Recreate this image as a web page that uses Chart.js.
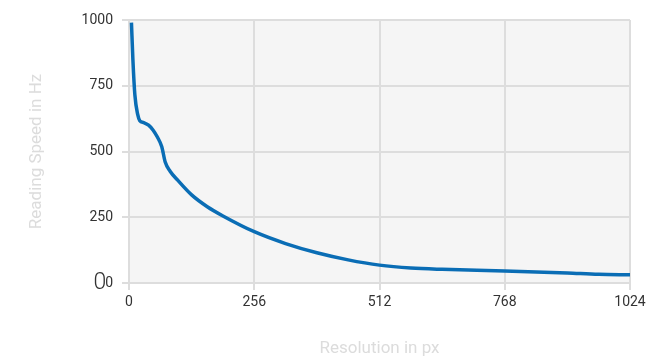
<!DOCTYPE html>
<html>
<head>
<meta charset="utf-8">
<script src="https://cdn.jsdelivr.net/npm/chart.js@4/dist/chart.umd.min.js"></script>
<style>
html,body{margin:0;padding:0;background:#fff;}
#wrap{width:646px;height:361px;position:relative;}
</style>
</head>
<body>
<div id="wrap"><canvas id="c" width="646" height="361"></canvas></div>
<script>
const resolution = [5, 8, 12, 18, 22, 30, 40, 49, 58, 67, 74, 84, 100, 128, 160, 192, 256, 320, 384, 448, 512, 576, 640, 768, 896, 960, 1024];
const speed      = [990, 848, 715, 639, 617, 610, 600, 582, 555, 518, 460, 425, 390, 335, 290, 255, 195, 150, 115, 88, 68, 57, 52, 46, 38, 33, 31];
const xTicks = [0, 256, 512, 768, 1024];
const yTicks = [0, 250, 500, 750, 1000];

const points = resolution.map((r, i) => ({x: r, y: speed[i]}));

const bgPlugin = {
  id: 'bg',
  beforeDraw(chart) {
    const a = chart.chartArea, ctx = chart.ctx;
    ctx.save();
    ctx.fillStyle = '#f5f5f5';
    ctx.fillRect(a.left, a.top, a.right - a.left, a.bottom - a.top);
    ctx.restore();
  },
  afterDraw(chart) {
    const ctx = chart.ctx;
    const y0 = chart.scales.y.getPixelForValue(0);
    ctx.save();
    ctx.font = '300 23px Roboto';
    ctx.fillStyle = '#333';
    ctx.textAlign = 'center';
    ctx.textBaseline = 'middle';
    ctx.fillText('0', 100, y0);
    ctx.restore();
  }
};

new Chart(document.getElementById('c'), {
  type: 'line',
  data: {
    datasets: [{
      data: points,
      borderColor: '#0a6db5',
      borderWidth: 3.5,
      pointRadius: 0,
      fill: false,
      cubicInterpolationMode: 'monotone',
      tension: 0.4
    }]
  },
  options: {
    responsive: false,
    animation: false,
    devicePixelRatio: 1,
    layout: {padding: {top: 20, right: 16, left: 0, bottom: 0}},
    plugins: {legend: {display: false}, tooltip: {enabled: false}},
    scales: {
      x: {
        type: 'linear',
        min: 0, max: 1024,
        afterBuildTicks: s => { s.ticks = xTicks.map(v => ({value: v})); },
        afterFit: s => { s.height = 78; s.paddingRight = 0; s.paddingLeft = 0; },
        grid: {color: '#dddddd', lineWidth: 2, tickLength: 7},
        border: {color: '#dddddd', width: 2},
        ticks: {color: '#333', font: {family: 'Roboto', size: 14}, padding: 4, maxRotation: 0, callback: v => String(v)},
        title: {display: true, text: 'Resolution in px', color: '#dcdcdc', font: {family: 'Roboto', size: 17}, padding: {top: 2, bottom: 2}}
      },
      y: {
        type: 'linear',
        min: 0, max: 1000,
        afterBuildTicks: s => { s.ticks = yTicks.map(v => ({value: v})); },
        afterFit: s => { s.width = 129; s.paddingTop = 0; s.paddingBottom = 0; },
        grid: {color: '#dddddd', lineWidth: 2, tickLength: 7},
        border: {color: '#dddddd', width: 2},
        ticks: {color: '#333', font: {family: 'Roboto', size: 14}, padding: 9, callback: v => String(v)},
        title: {display: true, text: 'Reading Speed in Hz', color: '#dcdcdc', font: {family: 'Roboto', size: 17}, padding: {top: 27, bottom: 27}}
      }
    }
  },
  plugins: [bgPlugin]
});
</script>
</body>
</html>
